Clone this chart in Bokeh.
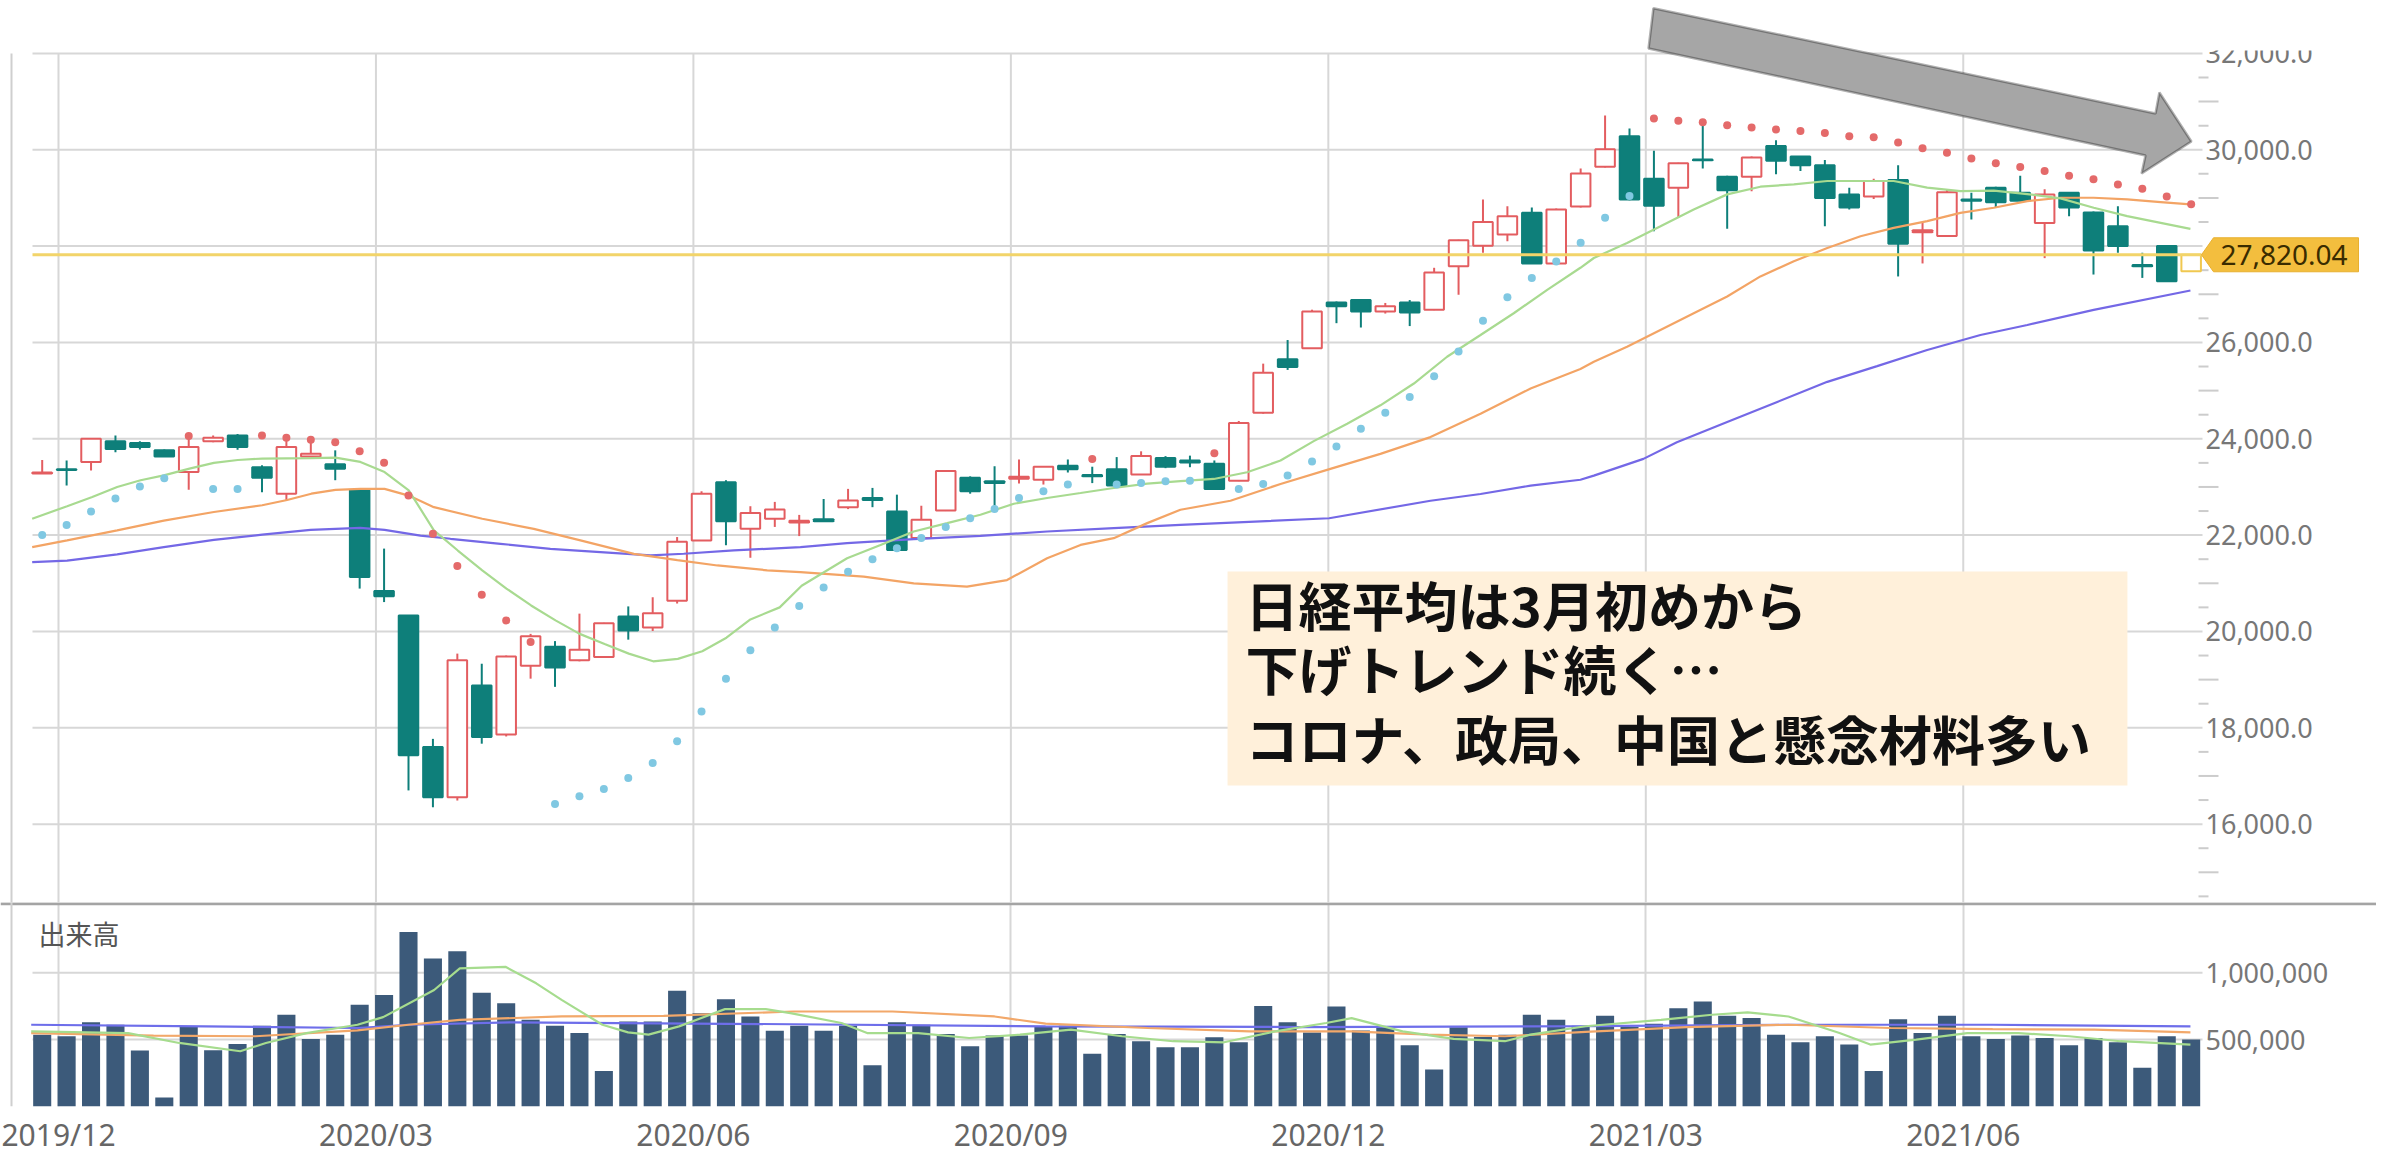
from bokeh.plotting import figure
from bokeh.layouts import column
from bokeh.models import (ColumnDataSource, Range1d, FixedTicker, Label, Span,
                          PolyAnnotation, BoxAnnotation)
from bokeh.core.properties import value
from bokeh.embed import file_html
from bokeh.resources import INLINE

# ---------------- data (weekly Nikkei 225) ----------------
opens = [23280,23370,23520,23950,23910,23760,23310,23950,24070,23410,
         22860,23630,23470,22930,20840,20330,17600,16560,18880,17860,
         19290,19680,19400,19470,20310,20080,20640,21890,23100,22130,
         22340,22260,22330,22580,22770,22490,21940,22510,23190,23120,
         23170,23150,23440,23250,23370,23260,23600,23550,23480,23130,
         24540,25650,25880,26830,26880,26640,26830,26680,27580,28010,
         28240,28690,27640,28820,29650,30280,29400,29210,29800,29440,
         29440,30080,29860,29680,29070,29030,29370,28290,28210,28970,
         29210,29110,28480,29110,28700,28410,27610,28000,27480]
highs = [23560,23550,24010,24070,23950,23780,24040,24070,24100,23450,
         24040,23970,23760,22930,21720,20330,17770,19540,19330,19500,
         19950,19800,20370,20180,20520,20710,21960,22910,23140,22600,
         22690,22420,22750,22960,22980,22840,22610,23350,23220,23430,
         23570,23430,23570,23420,23620,23740,23640,23650,23550,24370,
         25560,26050,26680,26850,26900,26820,26880,27550,28130,28970,
         28830,28800,28780,29610,30710,30440,29980,29730,30640,29460,
         29860,30200,29870,29790,29210,29400,29680,28500,29180,29110,
         29230,29460,29180,29120,28720,28830,27860,28010,27830]
lows = [23270,23030,23340,23720,23780,23620,22940,23930,23770,22890,
        22730,23620,23140,20890,20610,16700,16350,16490,17670,17820,
        19020,18850,19380,19460,19830,20010,20580,21880,21790,21530,
        22170,21980,22280,22540,22580,21680,21900,22500,22860,22560,
        23070,23050,23300,23080,23000,23250,23390,23410,22940,23120,
        24520,25430,25870,26400,26310,26600,26340,26670,26990,27860,
        28100,27630,27610,28800,29630,28950,28310,28590,29610,28360,
        29140,29490,29560,28410,28760,28980,27370,27640,28200,28550,
        28800,28930,27750,28620,27410,27860,27340,27270,27470]
closes = [23300,23350,24000,23790,23830,23630,23830,24020,23830,23190,
          23830,23690,23380,21130,20730,17430,16560,19400,17810,19480,
          19900,19250,19620,20170,20020,20380,21860,22860,22290,22460,
          22530,22300,22290,22720,22730,21690,22320,23330,22910,23080,
          23210,23420,23370,23220,23030,23640,23420,23510,22960,24330,
          25370,25490,26640,26750,26640,26750,26620,27450,28120,28500,
          28620,27640,28760,29510,30010,28970,28840,29720,29780,29160,
          29840,29770,29680,29000,28800,29350,28050,28330,29120,28940,
          28910,28940,29070,28800,27910,28000,27580,27270,27820]
volumes = [537,525,629,611,418,67,599,421,468,604,
           686,505,537,760,834,1304,1106,1161,851,772,
           648,604,549,265,636,636,866,698,802,673,
           567,604,567,604,309,629,611,542,450,530,
           530,594,604,394,542,488,443,443,517,480,
           752,629,554,747,569,587,458,277,592,520,
           537,686,648,604,678,594,619,735,785,678,
           661,537,480,525,463,265,653,549,678,525,
           505,530,512,458,512,480,290,525,500]          # thousands of shares
sar_values = [22000,22210,22490,22760,23010,23180,24060,22960,22960,24070,
              24020,23980,23930,23740,23500,22820,22030,21360,20760,20230,
              19780,16420,16580,16730,16960,17270,17720,18340,19020,19610,
              20080,20530,20910,21240,21500,21730,21940,22170,22350,22540,
              22770,22910,23050,23580,23050,23080,23120,23130,23700,22960,
              23060,23240,23530,23840,24210,24540,24870,25300,25810,26450,
              26940,27340,27680,28070,28590,29040,30650,30600,30570,30510,
              30460,30420,30390,30350,30280,30260,30150,30030,29940,29820,
              29720,29640,29560,29460,29390,29280,29190,29030,28870]
sar_side = ("BBBBBBRBBRRRRRRRRRRRRBBBBBBBBBBBBBBBBBBBBBBRBBBBRBBBBBBBBBBBBBBBBB"
            "RRRRRRRRRRRRRRRRRRRRRRR")

# moving averages of price (13 / 26 / 52 weeks), sampled along the curves
ma13_x = [-0.41,1.02,2.05,3.07,4.03,4.98,6.03,7.03,8.01,9.01,11.02,12.01,13.03,14.02,15.01,
          16.04,17.02,18.02,19.01,20.02,21.02,22.01,23.03,24.02,25.02,26.03,27.03,28.02,29.0,
          30.2,31.1,32.96,34.33,35.69,37.06,38.42,39.79,41.15,42.52,43.88,45.25,46.61,47.98,
          49.34,50.71,52.07,53.44,54.8,56.17,57.53,58.9,60.26,61.63,62.99,63.54,64.9,66.27,
          67.63,69.0,70.36,71.73,73.1,74.46,75.82,77.19,78.55,79.92,81.29,82.65,84.01,85.38,
          86.75,87.97]
ma13_y = [22340,22600,22790,23000,23140,23240,23380,23500,23560,23590,23600,23610,23520,23310,22930,
          22100,21680,21270,20890,20540,20230,19950,19740,19540,19380,19430,19590,19870,20250,
          20500,20950,21519,21797,22075,22249,22423,22652,22770,22874,22978,23069,23120,23166,
          23305,23548,23951,24313,24695,25147,25703,26155,26606,27093,27550,27753,28066,28413,
          28761,29074,29233,29282,29352,29352,29352,29213,29143,29150,29080,28990,28796,28622,
          28483,28358]
ma26_x = [-0.41,1.02,3.07,4.98,7.03,9.01,10.03,11.02,12.01,13.03,14.02,15.01,16.04,18.02,20.13,
          22.04,24.23,26.01,27.65,29.69,31.05,33.64,35.69,37.87,39.51,41.15,42.52,43.88,45.25,
          46.61,48.66,50.71,52.75,54.8,56.85,58.9,60.95,62.99,63.54,64.9,67.63,69.0,70.36,
          71.73,73.1,74.46,75.82,77.19,78.55,79.92,81.29,82.65,84.01,85.38,86.75,87.97]
ma26_y = [21750,21890,22100,22300,22480,22620,22730,22860,22940,22960,22960,22820,22580,22340,22130,
          21890,21610,21480,21370,21270,21230,21137,21000,20930,21067,21519,21797,21936,22249,
          22527,22714,23062,23375,23687,24035,24521,25043,25450,25598,25911,26606,26954,27371,
          27684,27962,28205,28379,28518,28691,28796,28935,29004,29004,28969,28914,28866]
ma52_x = [-0.41,1.02,3.07,4.98,7.03,9.01,10.99,13.03,14.02,15.49,16.72,18.77,20.81,22.86,24.91,
          26.27,28.32,31.05,32.96,35.69,38.42,41.15,43.88,46.61,52.7,56.85,58.9,60.95,62.99,
          63.54,65.57,66.94,69.0,71.05,73.1,75.14,77.19,79.37,81.29,84.01,87.97]
ma52_y = [21440,21470,21600,21750,21900,22010,22110,22150,22110,21990,21924,21820,21716,21647,21578,
          21613,21682,21751,21832,21915,21985,22075,22144,22214,22350,22714,22853,23027,23150,
          23236,23583,23930,24348,24765,25182,25508,25842,26155,26363,26676,27079]

# moving averages of volume (thousands)
vma13_x = [-0.45,3.52,5.61,8.11,9.16,10.82,12.91,13.96,16.05,17.1,18.97,20.23,21.27,22.94,23.99,
           24.83,26.08,27.96,29.63,30.64,32.73,33.78,35.87,37.96,40.04,42.13,44.22,46.31,48.4,
           50.49,52.58,53.62,55.71,57.8,59.9,60.94,63.2,66.29,68.38,69.84,71.51,73.6,74.86,
           76.74,78.83,80.92,83.01,85.1,87.97]
vma13_y = [562,549,475,413,475,549,611,668,871,1032,1044,921,797,611,554,
           537,599,728,728,698,624,549,549,512,537,574,525,488,480,
           562,624,661,562,505,488,537,600,648,686,703,673,549,463,
           500,549,549,525,488,463]
vma26_x = [-0.45,4.56,8.73,12.91,15.0,17.1,21.27,25.45,30.77,34.82,39.0,41.09,45.26,49.44,53.62,
           56.76,59.9,63.2,67.34,71.51,75.69,79.87,84.04,87.97]
vma26_y = [549,530,525,569,611,648,673,678,710,710,673,619,587,562,562,
           537,525,558,594,611,587,579,574,554]
vma52_x = [-0.45,6.65,12.91,15.0,19.18,30.77,41.09,51.53,63.2,71.51,79.87,87.97]
vma52_y = [611,599,587,611,629,615,599,594,601,611,611,599]

x_labels = ["2019/12", "2020/03", "2020/06", "2020/09", "2020/12", "2021/03", "2021/06"]
price_ticks = [16000, 18000, 20000, 22000, 24000, 26000, 28000, 30000, 32000]
volume_ticks = [500000, 1000000]
last_price = 27820.04
note_lines = ["日経平均は3月初めから", "下げトレンド続く…", "コロナ、政局、中国と懸念材料多い"]

# ---------------- layout constants ----------------
UP = "#E35D60"
DOWN = "#0E7F7A"
LIVE = "#F0C850"
SAR_RED = "#E46A6A"
SAR_BLUE = "#80C8E2"
GRID = "#d7d7d7"
AXIS_TXT = "#777777"
FONT = "Noto Sans"

W = 2376
PXW = 24.42                      # pixels per week
def wx(px):                      # page pixel -> week index
    return (px - 41.7) / PXW

XL, XR = wx(0), wx(W)            # full-width frame
GX0 = wx(32)                     # left end of horizontal grid
XEND = wx(2198)                  # right end of plot area
BORDER_X = wx(11)
LAB_X = wx(2205)

n = len(opens)
xs = list(range(n))
kind = ["live" if i == n - 1 else ("up" if closes[i] >= opens[i] else "down") for i in xs]
fill_map = {"up": "white", "down": DOWN, "live": "white"}
line_map = {"up": UP, "down": DOWN, "live": LIVE}
src = ColumnDataSource(dict(
    x=xs, h=highs, l=lows,
    top=[max(o, c) for o, c in zip(opens, closes)],
    bot=[min(o, c) for o, c in zip(opens, closes)],
    fill=[fill_map[k] for k in kind], line=[line_map[k] for k in kind],
    vol=[v * 1000 for v in volumes],
))
sar_src = ColumnDataSource(dict(x=xs, y=sar_values,
                                c=[SAR_RED if s == "R" else SAR_BLUE for s in sar_side]))

xtick_pos = [0.667 + 13 * k for k in range(len(x_labels))]
x_rng = Range1d(XL, XR)

# ---------------- price panel ----------------
YTOP_MAIN, YBOT_MAIN = 33099, 14373
p = figure(width=W, height=902, x_range=x_rng, y_range=Range1d(YBOT_MAIN, YTOP_MAIN),
           x_axis_location=None, y_axis_location=None,
           output_backend="svg", toolbar_location=None,
           min_border_left=0, min_border_right=0, min_border_top=0, min_border_bottom=0)
p.outline_line_color = None
p.grid.visible = False

# grid
p.segment(x0=xtick_pos, x1=xtick_pos, y0=[price_ticks[-1]] * len(xtick_pos),
          y1=[YBOT_MAIN] * len(xtick_pos), line_color=GRID, line_width=2)
p.segment(x0=[BORDER_X], x1=[BORDER_X], y0=[price_ticks[-1]], y1=[YBOT_MAIN],
          line_color="#cfcfcf", line_width=2)
p.segment(x0=[GX0] * len(price_ticks), x1=[wx(2202)] * len(price_ticks),
          y0=price_ticks, y1=price_ticks, line_color=GRID, line_width=2)
minor = [v for v in range(14500, 33000, 500) if v % 2000]
p.segment(x0=[XEND] * len(minor),
          x1=[wx(2218) if v % 1000 == 0 else wx(2208) for v in minor],
          y0=minor, y1=minor, line_color="#cccccc", line_width=2)
shown = [t for t in price_ticks if abs(t - last_price) > 600]   # the price tag hides 28,000
p.text(x=[LAB_X] * len(shown), y=shown, text=[f"{v:,.1f}" for v in shown],
       text_font=value(FONT), text_font_size="27px", text_color=AXIS_TXT,
       text_baseline="middle", text_align="left")

# candles
p.segment(x0="x", y0="h", x1="x", y1="l", line_color="line", line_width=2, source=src)
p.vbar(x="x", width=0.8, top="top", bottom="bot", fill_color="fill",
       line_color="line", line_width=2, source=src)
# moving averages
p.line(ma52_x, ma52_y, line_color="#7468E6", line_width=2.2)
p.line(ma26_x, ma26_y, line_color="#F3A465", line_width=2.2)
p.line(ma13_x, ma13_y, line_color="#A8DA90", line_width=2.2)
# parabolic SAR
p.scatter(x="x", y="y", size=8, fill_color="c", line_color=None, source=sar_src)

# last price line + tag
p.segment(x0=[GX0], x1=[wx(2201)], y0=[last_price], y1=[last_price],
          line_color="#F2D46A", line_width=3)
HALF = 17 / 0.048167
p.patch(x=[wx(2201), wx(2213), wx(2358), wx(2358), wx(2213)],
        y=[last_price, last_price + HALF, last_price + HALF, last_price - HALF, last_price - HALF],
        fill_color="#F3BE3E", line_color="#E8B030", line_width=1)
p.text(x=[wx(2220)], y=[last_price], text=[f"{last_price:,.2f}"],
       text_font=value(FONT), text_font_size="28px", text_color="#3a2c00",
       text_baseline="middle", text_align="left")

# blank header strip above the chart (cuts the top of the 32,000 label like the original)
p.add_layout(BoxAnnotation(bottom=32062, fill_color="white", fill_alpha=1.0, line_color=None))

# note box
p.add_layout(BoxAnnotation(left=48.54, right=85.39, top=21245, bottom=16802,
                           fill_color="#FFF0DA", fill_alpha=1.0, line_color=None))
for txt, yv in zip(note_lines, [20560, 19231, 17778]):
    p.add_layout(Label(x=49.28, y=yv, text=txt, text_align="left", text_baseline="middle",
                       text_font="Noto Sans CJK JP", text_font_style="bold",
                       text_font_size="53px", text_color="#111111"))

# down-trend arrow
p.add_layout(PolyAnnotation(
    xs=[65.98, 86.54, 86.70, 88.01, 85.97, 86.13, 65.78],
    ys=[32940, 30754, 31190, 30172, 29508, 29882, 32103],
    fill_color="#A6A6A6", fill_alpha=1.0, line_color="black", line_width=2.5))

# ---------------- volume panel ----------------
YTOP_VOL = 1525000
p2 = figure(width=W, height=255, x_range=x_rng, y_range=Range1d(0, YTOP_VOL),
            x_axis_location="below", y_axis_location=None,
            output_backend="svg", toolbar_location=None,
            min_border_left=0, min_border_right=0, min_border_top=0, min_border_bottom=50)
p2.outline_line_color = None
p2.ygrid.visible = False
p2.xgrid.ticker = FixedTicker(ticks=xtick_pos)
p2.xgrid.grid_line_color = GRID
p2.xgrid.grid_line_width = 2

xax = p2.xaxis[0]
xax.ticker = FixedTicker(ticks=xtick_pos)
xax.major_label_overrides = {t: lab for t, lab in zip(xtick_pos, x_labels)}
xax.axis_line_color = None
xax.major_tick_line_color = None
xax.major_tick_out = 0
xax.minor_tick_line_color = None
xax.major_label_standoff = 7
xax.major_label_text_font = FONT
xax.major_label_text_font_size = "30px"
xax.major_label_text_color = "#666666"

p2.segment(x0=[GX0] * 2, x1=[wx(2202)] * 2, y0=volume_ticks, y1=volume_ticks,
           line_color=GRID, line_width=2)
p2.text(x=[LAB_X] * 2, y=volume_ticks, text=[f"{v:,}" for v in volume_ticks],
        text_font=value(FONT), text_font_size="27px", text_color=AXIS_TXT,
        text_baseline="middle", text_align="left")

p2.vbar(x="x", top="vol", width=0.74, fill_color="#3C5A7A", line_color=None, source=src)
p2.line(vma52_x, [v * 1000 for v in vma52_y], line_color="#6E6EEA", line_width=2.2)
p2.line(vma26_x, [v * 1000 for v in vma26_y], line_color="#F2A86A", line_width=2.2)
p2.line(vma13_x, [v * 1000 for v in vma13_y], line_color="#A6DC8E", line_width=2.2)

p2.add_layout(Span(location=YTOP_VOL - 10000, dimension="width", line_color="#a4a4a4",
                   line_width=3))
p2.add_layout(Span(location=BORDER_X, dimension="height", line_color="#cfcfcf", line_width=2))
p2.add_layout(Label(x=-0.15, y=1290000, text="出来高", text_align="left", text_baseline="middle",
                    text_font="Noto Sans CJK JP", text_font_size="27px", text_color="#555555"))

layout = column(p, p2, spacing=0)
open("out.html", "w").write(file_html(layout, INLINE))
